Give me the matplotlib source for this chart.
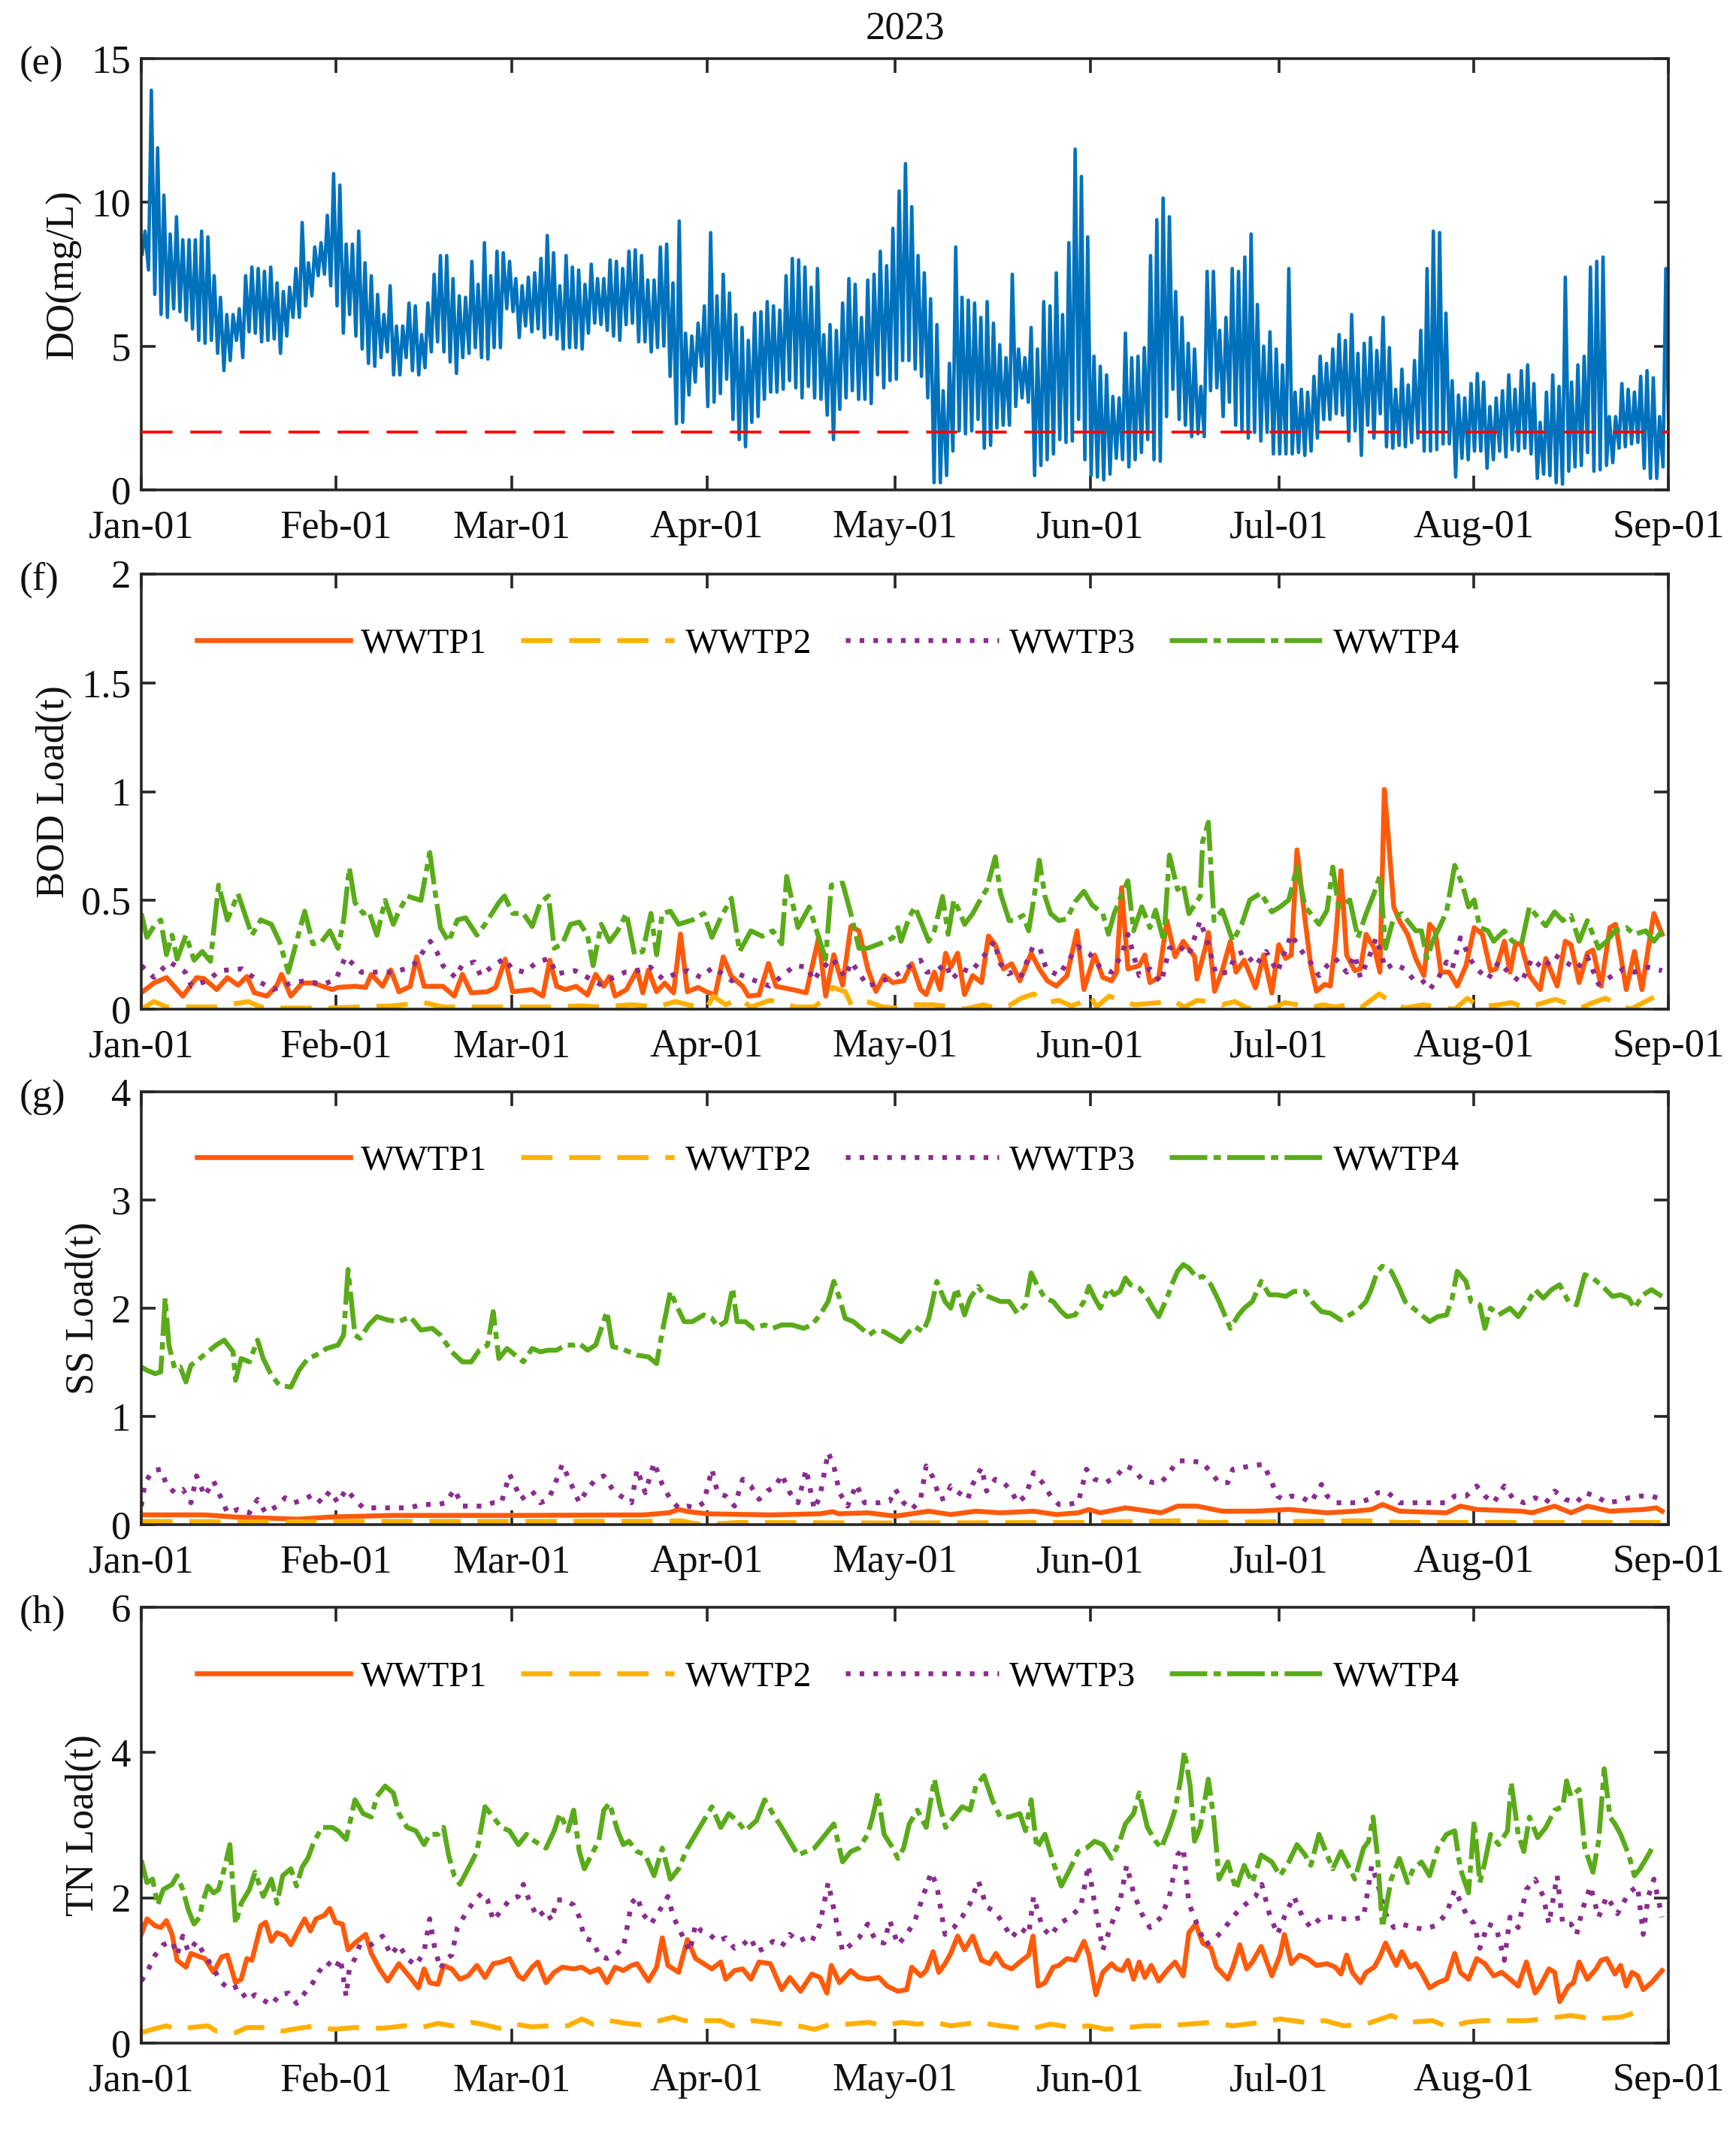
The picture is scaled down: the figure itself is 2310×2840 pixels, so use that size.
import datetime
import numpy as np
import matplotlib
matplotlib.use("Agg")
import matplotlib.pyplot as plt
import matplotlib.dates as mdates

plt.rcParams['font.family'] = ['Liberation Serif', 'DejaVu Serif']
plt.rcParams['lines.scale_dashes'] = False

# ---------------- DATA ----------------
# DO (mg/L): daily high and low of the sub-daily record, day 0 = Jan-01
do_hi = [9.0, 13.9, 11.9, 10.25, 8.9, 9.5, 8.7, 8.7, 8.7, 9.0, 8.8, 7.45, 6.7, 6.1, 6.1, 6.3, 7.45, 7.75, 7.7, 7.6,
         7.75, 7.2, 6.9, 7.05, 7.7, 9.3, 7.9, 8.45, 8.6, 9.55, 11.0, 10.6, 8.55, 8.55, 9.0, 7.9, 7.45, 6.8, 6.1, 7.1,
         5.7, 5.7, 6.5, 6.4, 5.4, 6.5, 7.5, 8.15, 8.15, 7.35, 6.75, 6.7, 7.95, 7.15, 8.6, 7.45, 8.3, 8.25, 7.95, 7.35,
         7.1, 7.4, 7.55, 8.05, 8.85, 8.25, 7.1, 8.15, 7.75, 7.65, 7.15, 7.85, 7.35, 7.35, 8.0, 7.95, 7.7, 8.3, 8.35, 8.15,
         7.3, 7.3, 8.45, 8.55, 7.2, 9.35, 5.45, 5.35, 5.8, 6.4, 8.95, 6.75, 7.5, 6.85, 6.1, 5.65, 5.2, 6.15, 6.2, 6.55,
         6.4, 6.25, 7.45, 8.05, 8.0, 7.75, 7.05, 7.7, 5.4, 5.75, 5.55, 6.5, 7.35, 7.15, 6.0, 7.3, 7.5, 8.3, 7.8, 9.1,
         10.4, 11.35, 9.85, 8.15, 7.55, 6.65, 5.75, 3.45, 4.4, 8.45, 6.7, 6.6, 6.5, 6.0, 6.55, 5.8, 5.05, 4.6, 7.5, 4.9,
         4.6, 5.65, 4.9, 6.55, 6.4, 7.55, 6.1, 8.6, 11.85, 10.9, 8.8, 4.65, 4.3, 4.0, 3.25, 3.2, 5.45, 4.6, 4.65, 4.95,
         8.15, 9.4, 10.15, 9.5, 6.9, 6.0, 5.1, 4.9, 3.6, 7.6, 7.6, 5.55, 6.0, 7.7, 7.6, 8.1, 8.9, 6.45, 5.0, 5.5,
         4.9, 4.35, 7.7, 3.4, 3.5, 3.4, 3.95, 4.65, 4.4, 4.9, 5.4, 5.2, 6.1, 4.75, 5.1, 5.3, 4.85, 6.0, 4.95, 3.5,
         4.2, 3.65, 4.5, 5.55, 7.7, 9.0, 8.95, 6.15, 3.8, 3.3, 3.2, 3.7, 4.05, 3.75, 2.9, 3.2, 3.45, 4.0, 3.5, 4.15,
         4.35, 3.7, 2.35, 3.4, 4.0, 3.6, 7.4, 3.75, 4.35, 4.65, 7.75, 7.95, 8.1, 2.55, 2.55, 3.7, 3.5, 3.4, 3.95, 4.15,
         3.9, 2.55, 7.7, 2.5]
do_lo = [8.2, 7.65, 6.8, 6.1, 6.0, 6.3, 6.2, 5.9, 5.6, 5.2, 5.1, 5.2, 4.75, 4.15, 4.5, 5.2, 4.6, 5.5, 5.45, 5.15,
         5.2, 5.25, 4.75, 5.35, 6.0, 6.0, 6.4, 6.75, 7.45, 7.5, 7.1, 6.4, 5.45, 6.1, 5.35, 4.9, 4.4, 4.3, 4.6, 4.8,
         4.0, 4.0, 4.6, 4.15, 4.0, 4.25, 4.8, 5.15, 4.8, 4.45, 4.05, 4.6, 4.75, 4.95, 4.6, 4.55, 4.95, 4.95, 6.3, 6.2,
         5.3, 5.7, 5.5, 5.6, 5.3, 5.4, 5.25, 4.9, 4.95, 4.95, 4.9, 5.45, 5.8, 5.75, 5.55, 5.35, 5.2, 5.75, 5.8, 5.15,
         5.15, 4.8, 4.95, 5.0, 3.95, 2.3, 2.35, 3.3, 3.75, 4.3, 2.9, 3.05, 3.35, 3.85, 2.45, 1.75, 1.5, 2.35, 2.55, 3.15,
         3.4, 3.4, 3.5, 3.8, 3.55, 3.2, 3.6, 3.2, 3.15, 2.6, 1.75, 2.8, 3.2, 3.45, 3.15, 3.15, 3.0, 4.0, 3.55, 3.8,
         3.85, 4.5, 4.5, 4.2, 3.95, 3.2, 0.25, 0.25, 0.5, 1.35, 2.05, 1.95, 2.05, 2.45, 1.45, 1.55, 2.15, 2.25, 2.25, 2.9,
         3.2, 3.05, 0.5, 0.85, 1.05, 1.25, 1.75, 1.65, 1.7, 2.45, 1.05, 0.5, 0.45, 0.35, 0.55, 1.1, 1.05, 0.8, 1.05, 1.3,
         1.75, 1.05, 1.0, 2.55, 3.5, 2.45, 2.25, 1.85, 1.95, 1.85, 3.45, 3.55, 2.55, 3.05, 2.25, 2.05, 1.8, 2.0, 1.7, 2.0,
         1.25, 1.25, 1.25, 1.25, 1.3, 1.2, 1.35, 1.8, 2.45, 2.45, 2.65, 2.6, 1.7, 2.05, 1.2, 2.25, 1.8, 2.65, 1.5, 1.45,
         1.55, 1.5, 1.65, 1.8, 1.35, 1.35, 1.4, 1.6, 1.6, 0.45, 1.1, 1.05, 1.35, 1.35, 0.75, 1.05, 1.35, 1.15, 1.4, 1.35,
         1.45, 1.25, 0.4, 0.55, 0.5, 0.25, 0.2, 0.65, 0.8, 0.85, 1.3, 0.65, 0.7, 0.85, 0.95, 1.45, 1.5, 1.6, 1.65, 0.75,
         0.4, 0.4, 0.8, 0.85]
do_standard = 2.0

# BOD load (t): (day since Jan-01, value)
bod1_day = [0, 2, 4, 6.6, 8.8, 10, 12, 13.7, 15.4, 16.8, 18, 20, 21.6, 22.3, 23.8, 25.6, 27.3, 30.4, 31.3, 34, 35.7,
            36.6, 38.4, 39.7, 41, 42.8, 43.8, 45, 48, 49.8, 51.1, 52.5, 55.1, 56.4, 57.9, 59.1, 62.2, 63.9, 65, 66.1,
            67.5, 69.2, 71, 72.3, 73.6, 74.5, 75.4, 77.2, 78.9, 79.8, 80.7, 82, 83.3, 84.7, 85.8, 86.9, 88.6, 89.9,
            91.3, 92.6, 93.9, 95.7, 96.6, 98.3, 99.8, 101, 103.6, 105.8, 107.8, 108.9, 110.2, 111.6, 112.9, 114.2,
            115.6, 116.9, 118.2, 119.6, 121.3, 122.6, 124, 124.9, 126.2, 127.1, 128, 128.8, 129.9, 131, 132.3, 133.7,
            134.8, 135.9, 137.2, 138.5, 139.8, 141.6, 142.9, 144.2, 145.6, 147.3, 148.9, 150, 151.7, 153, 154.4, 155.2,
            156, 157, 158.8, 159.7, 160.5, 161.9, 163.2, 164.5, 165.8, 167.6, 168, 169.3, 169.8, 170.8, 172, 173.3,
            174.2, 175.5, 177.3, 178.6, 179.9, 181, 182.1, 183, 183.9, 185.2, 186.1, 187, 188.3, 189.2, 190, 190.9,
            191.8, 193.1, 194, 194.9, 196.2, 197.1, 197.8, 198.4, 199.3, 200.2, 201.5, 202.8, 204.1, 205, 205.9,
            206.8, 208.1, 209.4, 210.8, 212.1, 213.4, 214.7, 215.6, 216.9, 217.8, 218.7, 219.6, 220.9, 222.6, 223.5,
            225.3, 226.6, 227.5, 228.8, 230.1, 231, 232.3, 233.7, 234.6, 236.3, 237.6, 238.8, 239.8, 240.7, 242]
bod1_val = [0.075, 0.12, 0.145, 0.06, 0.145, 0.14, 0.09, 0.145, 0.11, 0.15, 0.075, 0.06, 0.11, 0.16, 0.06, 0.12, 0.12,
            0.09, 0.1, 0.105, 0.1, 0.16, 0.105, 0.18, 0.08, 0.105, 0.24, 0.105, 0.105, 0.06, 0.16, 0.075, 0.08, 0.1,
            0.23, 0.08, 0.09, 0.06, 0.225, 0.105, 0.09, 0.105, 0.065, 0.16, 0.105, 0.15, 0.06, 0.09, 0.18, 0.075, 0.18,
            0.08, 0.12, 0.075, 0.345, 0.08, 0.1, 0.08, 0.065, 0.24, 0.15, 0.105, 0.06, 0.065, 0.21, 0.105, 0.09, 0.075,
            0.33, 0.06, 0.25, 0.11, 0.38, 0.36,
            0.185, 0.082, 0.154, 0.122, 0.13, 0.209, 0.09, 0.067, 0.17, 0.09, 0.257, 0.193, 0.257, 0.067, 0.154, 0.122,
            0.336, 0.296, 0.185, 0.209, 0.13, 0.257, 0.185, 0.13, 0.106, 0.154, 0.36, 0.09, 0.249, 0.146, 0.13, 0.17,
            0.558, 0.185, 0.2, 0.249, 0.122, 0.146, 0.407, 0.241, 0.312, 0.241, 0.138, 0.28, 0.352, 0.082, 0.177, 0.312,
            0.17, 0.225, 0.098, 0.249, 0.074, 0.296, 0.233, 0.249, 0.732, 0.407, 0.2, 0.082, 0.114, 0.106, 0.304, 0.637,
            0.249, 0.177, 0.185, 0.344, 0.28, 0.17, 1.01, 0.803, 0.47, 0.407, 0.344, 0.233, 0.154, 0.39, 0.36, 0.17,
            0.17, 0.106, 0.2, 0.375, 0.344, 0.177, 0.185, 0.312, 0.17, 0.304, 0.296, 0.154, 0.09, 0.233, 0.106, 0.312,
            0.296, 0.122, 0.257, 0.272, 0.106, 0.375, 0.39, 0.09, 0.265, 0.09, 0.28, 0.44, 0.344]

bod2_day = [0, 2, 4, 8, 12, 17, 19, 22, 30, 35, 40, 45, 48, 52, 60, 65, 70, 73, 78, 82, 85, 87, 90, 91, 93, 95, 97,
            100, 102, 104, 107, 109, 110, 112, 113, 115, 118, 120, 123, 126, 129, 131, 134, 136, 138, 140, 142, 144,
            146, 148, 149.5, 151, 152, 154, 156, 158, 160, 162, 164, 166, 168, 170, 172, 174, 176, 178, 180, 182, 184,
            186, 188, 190, 192, 194, 197, 199, 201, 204, 206, 209, 211, 213, 216, 218, 220, 222, 225, 227, 229, 231,
            233, 235, 237, 239, 241, 242]
bod2_val = [0.0, 0.035, 0.01, 0.01, 0.01, 0.035, 0.01, 0.005, 0.005, 0.01, 0.015, 0.03, 0.01, 0.01, 0.01, 0.01, 0.015,
            0.01, 0.02, 0.01, 0.035, 0.02, 0.005, 0.06, 0.02, 0.05, 0.01, 0.04, 0.03, 0.01, 0.01, 0.05, 0.1, 0.08,
            0.02, 0.04, 0.01, 0.005, 0.02, 0.02, 0.01, 0.0, 0.02, 0.005, 0.015, 0.05, 0.07, 0.03, 0.04, 0.015, 0.03,
            0.065, 0.01, 0.06, 0.04, 0.02, 0.025, 0.03, 0.04, 0.01, 0.04, 0.035, 0.02, 0.035, 0.005, 0.005, 0.005,
            0.03, 0.02, 0.005, 0.02, 0.01, 0.02, 0.005, 0.07, 0.03, 0.005, 0.02, 0.01, 0.0, 0.05, 0.01, 0.02, 0.03,
            0.01, 0.02, 0.045, 0.025, 0.005, 0.03, 0.05, 0.02, 0.0, 0.03, 0.06, 0.065]

bod3_day = [0, 2, 4.5, 7, 8, 10.5, 12.5, 16, 19, 21, 24, 26, 29, 31, 32.5, 35, 37, 40, 42, 43.5, 46, 47, 48, 50, 51,
            53, 54, 56, 57.8, 59, 61, 63, 65, 66, 69, 71, 73, 74, 77, 78, 81, 83, 85, 87, 89, 91, 94, 95, 97, 100,
            102, 104, 106, 107, 108, 110, 112, 113, 115.6, 118, 120, 122, 124, 125, 126.6, 128, 129, 130.6, 132, 134,
            135.7, 136.7, 138, 139, 140, 141.9, 143, 144, 146, 147, 149, 150.8, 152.6, 154.4, 156, 157, 158.8, 160.5,
            162.3, 163.6, 165, 166.7, 168.5, 169.8, 171, 172.9, 174.2, 175.5, 177.3, 179, 180.8, 183, 184.3, 186,
            187.4, 188.7, 190, 191.8, 193.1, 194, 195.3, 196.5, 198, 199.3, 201, 202.4, 203.7, 205, 206.3, 207.7,
            208.6, 209.9, 211.6, 212.5, 214.3, 216, 217.8, 219.6, 221.3, 223.1, 224.9, 226.6, 228.4, 230.1, 231.9,
            234.1, 235.9, 237.6, 239.8, 242]
bod3_val = [0.2, 0.146, 0.217, 0.17, 0.106, 0.13, 0.177, 0.185, 0.122, 0.09, 0.122, 0.13, 0.114, 0.138, 0.241, 0.17,
            0.17, 0.17, 0.185, 0.209, 0.312, 0.265, 0.2, 0.146, 0.2, 0.217, 0.154, 0.2, 0.233, 0.185, 0.17, 0.217,
            0.233, 0.162, 0.177, 0.146, 0.114, 0.13, 0.17, 0.17, 0.193, 0.138, 0.162, 0.177, 0.146, 0.193, 0.13, 0.162,
            0.138, 0.106, 0.154, 0.2, 0.193, 0.13, 0.177, 0.233, 0.146, 0.217, 0.106, 0.13, 0.154, 0.193, 0.225, 0.17,
            0.177, 0.209, 0.138, 0.185, 0.17, 0.241, 0.312, 0.209, 0.162, 0.177, 0.154, 0.288, 0.28, 0.185, 0.154, 0.2,
            0.288, 0.257, 0.193, 0.17, 0.249, 0.344, 0.154, 0.185, 0.122, 0.28, 0.296, 0.249, 0.407, 0.296, 0.162,
            0.17, 0.249, 0.265, 0.2, 0.265, 0.17, 0.344, 0.28, 0.217, 0.154, 0.2, 0.233, 0.17, 0.249, 0.146, 0.233,
            0.328, 0.185, 0.209, 0.185, 0.138, 0.138, 0.09, 0.138, 0.217, 0.185, 0.328, 0.225, 0.185, 0.138, 0.217,
            0.162, 0.122, 0.233, 0.185, 0.249, 0.217, 0.185, 0.241, 0.114, 0.154, 0.185, 0.17, 0.193, 0.177]

bod4_day = [0, 0.9, 2.2, 3.1, 4, 4.9, 5.7, 7.1, 8.4, 9.7, 11, 12.3, 13.7, 15.4, 17.6, 19, 20.7, 22, 23.4, 24.7, 26,
            27.3, 28.7, 30, 31.3, 32.2, 33.1, 34, 35.3, 36.2, 37.5, 38.8, 40.1, 41, 42.3, 44.5, 45.9, 46.7, 47.6,
            48.9, 50.3, 51.6, 53.4, 54.7, 56.9, 57.8, 59.1, 60.8, 62.2, 63.5, 64.8, 65.7, 67, 68.3, 69.7, 71, 71.9,
            73.2, 74.5, 75.8, 77.2, 78.5, 79.8, 81.1, 82, 82.9, 84.2, 85.5, 87.7, 89.5, 90.8, 92.2, 93.9, 95.2, 97,
            98.8, 100.5, 101.9, 102.7, 104.5, 106.3, 108, 108.9, 109.8, 111.6, 112.9, 114.2,
            115.6, 117.8, 119.6, 120.4, 120.9, 122.2, 123.1, 124, 125.3, 126.2, 127.5, 128.4, 129.3, 130.1, 131,
            132.3, 133.2, 134.5, 135.9, 136.7, 138.1, 138.9, 140.3, 141.2, 142, 142.9, 143.8, 144.7, 146, 147.3,
            148.6, 150, 151.3, 153, 153.9, 154.8, 156.1, 157, 157.9, 159.2, 160.5, 161.4, 162.7, 163.6, 164.9, 165.8,
            166.7, 168.5, 168.9, 169.8, 170.7, 172, 173.7, 175.1, 176.4, 178.2, 179.9, 181.2, 182.6, 183.9, 185.2,
            186.1, 187.4, 188.7, 189.6, 190.5, 192.3, 193.6, 194.9, 196.2, 197.1, 198, 199.3, 200.6, 202.8, 203.7,
            204.6, 205.5, 206.3, 207.7, 209, 210.3, 211.2, 212.1, 213, 214.3, 215.2, 216.9, 218.2, 219.6, 220.9,
            222.2, 223.5, 224.9, 226.2, 227.5, 228.8, 230.1, 231.9, 233.2, 234.5, 236.3, 237.6, 239.4, 240.7, 242]
bod4_val = [0.44, 0.33, 0.39, 0.41, 0.25, 0.34, 0.23, 0.34, 0.225, 0.265, 0.22, 0.57, 0.41, 0.53, 0.34, 0.41, 0.39,
            0.31, 0.17, 0.31, 0.45, 0.3, 0.31, 0.36, 0.28, 0.41, 0.65, 0.49, 0.44, 0.45, 0.34, 0.5, 0.39, 0.45, 0.52,
            0.5, 0.72, 0.55, 0.375, 0.31, 0.41, 0.42, 0.34, 0.39, 0.49, 0.52, 0.44, 0.44, 0.38, 0.49, 0.52, 0.28, 0.3,
            0.39, 0.4, 0.34, 0.2, 0.39, 0.31, 0.36, 0.44, 0.25, 0.265, 0.44, 0.25, 0.44, 0.45, 0.39, 0.41, 0.44, 0.33,
            0.42, 0.51, 0.265, 0.36, 0.335, 0.36, 0.3, 0.61, 0.375, 0.47, 0.31, 0.23, 0.57, 0.58, 0.44, 0.28,
            0.28, 0.304, 0.328, 0.375, 0.312, 0.423, 0.47, 0.407, 0.312, 0.36, 0.518, 0.344, 0.502, 0.455, 0.39,
            0.439, 0.487, 0.55, 0.7, 0.534, 0.407, 0.407, 0.431, 0.36, 0.502, 0.685, 0.518, 0.439, 0.407, 0.415,
            0.494, 0.542, 0.479, 0.439, 0.344, 0.439, 0.534, 0.59, 0.36, 0.47, 0.375, 0.455, 0.312, 0.708, 0.55,
            0.574, 0.439, 0.518, 0.772, 0.859, 0.407, 0.455, 0.312, 0.39, 0.502, 0.534, 0.447, 0.47, 0.502, 0.653,
            0.47, 0.439, 0.39, 0.455, 0.653, 0.47, 0.502, 0.328, 0.439, 0.534, 0.613, 0.28, 0.423, 0.439, 0.36, 0.36,
            0.233, 0.312, 0.36, 0.447, 0.661, 0.566, 0.47, 0.502, 0.375, 0.36, 0.312, 0.36, 0.312, 0.296, 0.47, 0.423,
            0.383, 0.447, 0.407, 0.431, 0.312, 0.407, 0.28, 0.312, 0.36, 0.375, 0.344, 0.36, 0.312, 0.36]

# SS load (t)
ss1_day = [0, 10, 15, 25, 30, 40, 60, 80, 84, 85.5, 87, 90, 100, 108, 110, 111, 115.6, 120, 125.3, 128.8, 132.8,
           136.7, 142, 145.6, 149.1, 150.8, 152.6, 156.6, 162.3, 164.9, 168, 172, 177.3, 182.6, 188.7, 193.1, 195.8,
           197.5, 200.2, 207.7, 209.9, 212.5, 219.6, 221.3, 224.9, 227.5, 230.1, 233.7, 239, 241.1, 242]
ss1_val = [0.09, 0.09, 0.07, 0.05, 0.07, 0.085, 0.085, 0.09, 0.11, 0.14, 0.12, 0.1, 0.09, 0.1, 0.12, 0.1, 0.109, 0.078,
           0.124, 0.093, 0.124, 0.109, 0.124, 0.093, 0.109, 0.14, 0.109, 0.155, 0.109, 0.171, 0.171, 0.124, 0.124,
           0.14, 0.109, 0.124, 0.14, 0.186, 0.124, 0.109, 0.171, 0.14, 0.124, 0.109, 0.171, 0.109, 0.171, 0.124, 0.14,
           0.155, 0.124]

ss2_day = [0, 20, 40, 60, 80, 86, 88, 90, 95, 120, 150, 165, 170, 195, 200, 230, 242]
ss2_val = [0.03, 0.025, 0.03, 0.03, 0.03, 0.035, 0.01, 0.0, 0.02, 0.015, 0.02, 0.035, 0.02, 0.035, 0.02, 0.02, 0.02]

ss3_day = [0, 0.6, 1.8, 3.1, 4, 5.3, 6.6, 7.9, 8.8, 10.1, 11.5, 12.8, 13.7, 15.4, 17.2, 18.5, 19.8, 21.6, 22.9, 24.3,
           26, 27.3, 28.7, 30, 31.3, 32.6, 34, 35.3, 37.5, 39.2, 41, 42.8, 44.5, 45.9, 47.2, 48.5, 49.8, 51.1, 52.5,
           54.2, 56, 57.3, 58.6, 59.5, 60.4, 62.2, 63.5, 64.8, 65.7, 67, 68.3, 69.7, 71, 72.3, 73.6, 75, 76.3, 78,
           78.9, 80.2, 81.6, 82.9, 84.2, 85.5, 86.9, 88.2, 89.5, 90.8, 91.7, 93, 94.4, 95.7, 97, 98.3, 99.6, 101,
           101.9, 103.2, 104.5, 105.8, 107.1, 108, 109.3, 110.2, 111.1, 112.4, 113.8, 115.1,
           117.4, 119.1, 120, 121.3, 122.6, 124, 124.9, 126, 127.1, 128, 128.8, 130.1, 131.5, 132.3, 133.7, 134.5,
           135.9, 137.2, 138.5, 139.4, 140.7, 142, 143.4, 144.7, 146, 147.3, 149.1, 150.4, 151.7, 153.5, 155.2,
           156.6, 157.9, 159.2, 161, 162.3, 163.6, 164.9, 166.7, 168.9, 170.2, 171.5, 172.9, 173.7, 175.1, 176.8,
           178.6, 179.9, 180.8, 181.7, 183, 184.8, 186.1, 187.8, 188.7, 190, 191.8, 193.6, 195.3, 196.7, 198.4,
           200.2, 201.9, 203.7, 205.5, 207.7, 209, 210.8, 212.5, 213.8, 215.2, 216.9, 218.2, 220, 221.8, 223.5,
           224.9, 226.6, 228.4, 229.7, 231.5, 233.2, 235, 236.7, 238.5, 240.3, 242]
ss3_val = [0.171, 0.388, 0.496, 0.512, 0.372, 0.295, 0.326, 0.202, 0.45, 0.264, 0.403, 0.233, 0.109, 0.14, 0.109,
           0.233, 0.109, 0.171, 0.248, 0.202, 0.233, 0.279, 0.202, 0.31, 0.202, 0.326, 0.233, 0.155, 0.155, 0.155,
           0.155, 0.155, 0.186, 0.186, 0.186, 0.202, 0.326, 0.171, 0.171, 0.171, 0.202, 0.202, 0.465, 0.357, 0.233,
           0.31, 0.202, 0.233, 0.357, 0.558, 0.388, 0.202, 0.326, 0.419, 0.45, 0.326, 0.264, 0.202, 0.512, 0.295,
           0.574, 0.372, 0.233, 0.155, 0.171, 0.155, 0.202, 0.512, 0.295, 0.264, 0.171, 0.419, 0.357, 0.233, 0.31,
           0.357, 0.465, 0.295, 0.202, 0.512, 0.14, 0.264, 0.667, 0.543, 0.295, 0.171, 0.372, 0.202,
           0.202, 0.217, 0.326, 0.202, 0.14, 0.233, 0.543, 0.434, 0.233, 0.248, 0.357, 0.295, 0.233, 0.372, 0.527,
           0.31, 0.419, 0.388, 0.31, 0.202, 0.264, 0.481, 0.388, 0.264, 0.186, 0.186, 0.202, 0.512, 0.419, 0.388,
           0.45, 0.543, 0.512, 0.419, 0.388, 0.388, 0.481, 0.589, 0.589, 0.574, 0.481, 0.388, 0.388, 0.512, 0.527,
           0.543, 0.558, 0.388, 0.264, 0.233, 0.264, 0.248, 0.202, 0.372, 0.264, 0.202, 0.202, 0.202, 0.233, 0.295,
           0.295, 0.202, 0.202, 0.202, 0.202, 0.202, 0.264, 0.264, 0.357, 0.264, 0.202, 0.357, 0.248, 0.202, 0.248,
           0.202, 0.31, 0.233, 0.202, 0.295, 0.264, 0.202, 0.217, 0.248, 0.264, 0.264, 0.233]

ss4_day = [0, 0.9, 2.2, 3.1, 3.8, 4.4, 5.3, 6.2, 7.1, 7.9, 9.3, 10.6, 11.9, 13.2, 14.6, 15, 15.9, 17.2, 18.5, 19.4,
           20.7, 22, 23.8, 25.1, 26.5, 27.8, 29.5, 31.3, 32.2, 32.9, 34, 34.8, 36.2, 37.5, 39.2, 41, 42.8, 44.5,
           46.3, 47.6, 49.4, 51.1, 52.5, 53.8, 55.1, 56, 56.9, 58.2, 59.5, 60.8, 62.2, 63.5, 64.8, 66.1, 67.5, 68.8,
           69.7, 71, 72.3, 74.1, 75, 76.3, 77.6, 78.9, 80.7, 82, 82.9, 84.2, 85.1, 86.4, 87.7, 89.5, 90.8, 91.7, 93,
           94.1, 94.8, 96.1, 97.4, 99.2, 100.5, 101.9, 103.6, 105.4, 106.7, 108, 109.3, 110.2, 111.1, 112, 113.3,
           114.6, 115.8, 116.9, 118.2, 119.6, 120.9, 122.2, 123.1, 124.4, 125.3, 126.6, 127.9, 128.8, 129.7, 131,
           131.9, 133.2, 134.1, 135.4, 136.7, 138.1, 139.4, 140.7, 141.6, 142.5, 143.8, 145.1, 146.4, 147.3, 148.6,
           150, 150.8, 151.7, 152.6, 153.9, 154.8, 155.7, 156.6, 157.4, 158.8, 160.1, 161, 161.9, 163.2, 164.1,
           164.9, 165.8, 166.7, 168, 168.9, 170.2, 171.5, 172.4, 173.3, 174.6, 175.5, 176.8, 178.2, 179.5, 180.8,
           182.1, 183.4, 185.2, 186.5, 187.8, 189.2, 190.9, 192.3, 193.6, 194.9, 195.8, 196.7, 197.5, 198.9, 200.2,
           201.1, 202.4, 203.7, 205, 206.3, 207.7, 208.6, 209.4, 210.8, 211.6, 213, 213.8, 214.7, 216, 217.8, 219.1,
           220.4, 221.8, 223.1, 224.4, 225.7, 227.1, 228.4, 229.7, 231, 232.8, 234.1, 235.4, 236.7, 237.6, 239,
           240.3, 242]
ss4_val = [1.457, 1.426, 1.395, 1.411, 2.093, 1.659, 1.442, 1.457, 1.318, 1.473, 1.535, 1.597, 1.659, 1.705, 1.597,
           1.333, 1.535, 1.504, 1.705, 1.535, 1.38, 1.287, 1.271, 1.426, 1.535, 1.566, 1.628, 1.659, 1.752, 2.357,
           1.752, 1.721, 1.845, 1.922, 1.891, 1.876, 1.922, 1.798, 1.814, 1.752, 1.597, 1.504, 1.504, 1.612, 1.659,
           1.969, 1.535, 1.628, 1.566, 1.504, 1.628, 1.597, 1.612, 1.612, 1.659, 1.659, 1.674, 1.612, 1.659, 1.969,
           1.644, 1.628, 1.597, 1.566, 1.55, 1.488, 1.783, 2.155, 2.031, 1.876, 1.876, 1.938, 1.907, 1.829, 1.876,
           2.186, 1.876, 1.876, 1.814, 1.845, 1.814, 1.845, 1.845, 1.814, 1.845, 1.938, 2.062, 2.248, 2.093, 1.907,
           1.876, 1.814, 1.752, 1.798, 1.783, 1.736, 1.69, 1.783, 1.829, 1.783, 1.907, 2.248, 2.062, 2.0, 2.186,
           1.938, 2.093, 2.202, 2.124, 2.093, 2.062, 2.062, 1.953, 2.031, 2.326, 2.217, 2.093, 2.062, 1.969, 1.922,
           1.938, 2.062, 2.202, 2.093, 2.0, 2.186, 2.124, 2.155, 2.279, 2.217, 2.186, 2.093, 2.0, 1.922, 2.093,
           2.233, 2.341, 2.403, 2.372, 2.279, 2.295, 2.217, 2.062, 1.938, 1.814, 1.938, 2.0, 2.062, 2.248, 2.124,
           2.124, 2.109, 2.155, 2.155, 2.047, 1.969, 1.953, 1.891, 1.938, 1.984, 2.062, 2.186, 2.341, 2.388, 2.341,
           2.186, 2.062, 2.0, 1.938, 1.876, 1.922, 1.938, 2.093, 2.341, 2.248, 2.062, 2.031, 1.814, 2.0, 1.938, 2.0,
           1.922, 2.031, 2.171, 2.093, 2.171, 2.217, 2.062, 2.031, 2.31, 2.279, 2.186, 2.109, 2.124, 2.093, 2.0,
           2.124, 2.171, 2.109]

# TN load (t)
tn1_day = [0, 0.9, 2.2, 3.1, 4, 4.9, 5.7, 7.1, 7.9, 9.3, 10.1, 11.5, 12.8, 13.7, 15, 15.9, 16.8, 17.6, 19, 19.8,
           20.7, 21.6, 22.9, 23.8, 25.1, 26, 26.9, 27.8, 29.1, 30, 30.9, 32, 32.9, 34, 35.7, 36.6, 37.9, 39.2, 41,
           42.8, 44.1, 45, 45.9, 47.2, 48.1, 49.4, 50.7, 52, 53.4, 54.7, 56, 57.3, 58.6, 60, 60.8, 62.2, 63.1, 64.4,
           65.7, 67, 68.8, 70.1, 71.4, 72.8, 74.1, 75.4, 76.7, 78, 78.9, 80.7, 82, 82.9, 83.8, 85.5, 86.9, 88.2, 89.5,
           90.8, 92.2, 93, 94.4, 95.7, 97, 98.3, 100.1, 101.9, 103.2, 104.9, 106.7, 108, 109.1, 109.8, 111.1, 112.9,
           114.2, 115.6, 117.4, 118.7, 120.4, 121.8, 122.6, 124, 124.9, 126, 126.9, 127.9, 128.8, 129.9, 131, 132.3,
           133.7, 135, 136, 137.2, 138.5, 139.8, 141.2, 141.9, 142.7, 143.8, 145.1, 146, 147.3, 148.6, 150, 150.8,
           151.9, 153, 154.4, 155.2, 156.1, 157, 157.9, 158.8, 159.7, 160.7, 161.9, 163.2, 164.5, 165.8, 166.7,
           167.8, 168.9, 170.2, 171.1, 172.9, 173.7, 174.8, 175.9, 176.8, 178.2, 179.9, 181.2, 181.9, 183, 184.3,
           185.6, 187, 188.7, 190, 190.9, 191.8, 192.7, 194, 194.9, 196.2, 197.1, 198, 198.9, 199.7, 200.6, 201.9,
           202.8, 203.7, 205, 206.3, 207.7, 209, 209.9, 211.2, 212.5, 213.8, 215.2, 216.5, 217.8, 219.1, 220.4,
           221.8, 222.6, 224, 224.9, 225.7, 227.1, 227.9, 228.8, 230.1, 231.5, 232.3, 233.2, 234.5, 235.4, 236.3,
           237.2, 238.1, 239, 240.3, 242]
tn1_val = [1.496, 1.71, 1.615, 1.591, 1.686, 1.496, 1.14, 1.045, 1.235, 1.188, 1.164, 0.974, 1.188, 1.211, 0.831,
           0.879, 1.164, 1.14, 1.615, 1.663, 1.401, 1.52, 1.473, 1.354, 1.568, 1.71, 1.544, 1.71, 1.758, 1.853, 1.663,
           1.639, 1.283, 1.378, 1.496, 1.235, 1.021, 0.855, 1.093, 0.903, 0.76, 1.021, 0.831, 0.808, 1.069, 1.021,
           0.879, 0.926, 1.069, 0.903, 1.093, 1.116, 1.164, 0.926, 0.879, 1.045, 1.116, 0.831, 0.974, 1.045, 1.021,
           1.045, 0.974, 1.021, 0.831, 1.045, 0.998, 1.069, 1.093, 0.855, 1.045, 1.449, 1.069, 0.974, 1.425, 1.164,
           1.093, 1.021, 1.116, 0.879, 0.998, 1.021, 0.879, 1.116, 1.093, 0.736, 0.903, 0.713, 0.95, 0.903, 0.689,
           1.069, 0.831, 0.998, 0.903, 0.879, 0.903, 0.784, 0.713, 0.736, 1.045, 0.926, 0.998, 1.259, 0.974, 1.093,
           1.235, 1.473, 1.283, 1.473, 1.14, 1.093, 1.235, 1.069, 1.021, 1.116, 1.211, 1.473, 0.784, 0.831, 1.045,
           1.069, 1.164, 1.14, 1.401, 1.211, 0.665, 0.974, 1.093, 1.021, 0.998, 1.14, 0.879, 1.116, 0.903, 1.069,
           0.855, 0.998, 1.116, 0.926, 1.52, 1.639, 1.378, 1.306, 1.045, 0.879, 1.045, 1.354, 1.021, 1.116, 1.33,
           0.926, 1.211, 1.496, 1.093, 1.211, 1.164, 1.069, 1.093, 1.045, 0.95, 1.211, 0.974, 0.831, 0.974, 1.045,
           1.188, 1.378, 1.211, 1.069, 1.259, 1.045, 1.093, 0.974, 0.76, 0.831, 0.879, 1.235, 0.974, 0.879, 1.164,
           1.093, 0.926, 0.974, 0.879, 0.784, 1.116, 0.689, 0.784, 1.021, 0.974, 0.57, 0.784, 0.831, 1.116, 0.879,
           1.021, 1.14, 1.164, 0.95, 1.069, 0.784, 0.974, 0.926, 0.736, 0.831, 0.998]

tn2_day = [0, 1.8, 4, 5.7, 7.9, 10.6, 11.9, 15, 16.8, 19.4, 22.5, 25.1, 27.8, 30.4, 34, 38.4, 41.9, 44.5, 47.2, 49.4,
           52.5, 54.2, 56.9, 59.5, 62.2, 64.8, 67.9, 70.1, 71.9, 74.5, 77.2, 79.4, 82.5, 84.7, 86.4, 89.9, 92.2,
           93.9, 97.4, 101, 104.5, 107.1, 109.8, 112.4, 115.8, 118.2, 120.9, 123.5, 126.2, 128.8, 133.2, 136.7,
           141.2, 144.7, 148.2, 150.8, 153.5, 157, 159.7, 163.2, 166.7, 170.2, 173.7, 178.2, 181.2, 185.2, 188.3,
           191.4, 194.9, 198.9, 201.5, 205.5, 208.1, 210.8, 213.4, 216.9, 220.4, 223.1, 227.5, 231, 235.4, 238.1,
           239]
tn2_val = [0.143, 0.19, 0.238, 0.19, 0.214, 0.238, 0.166, 0.143, 0.214, 0.214, 0.166, 0.204, 0.238, 0.19, 0.214,
           0.204, 0.238, 0.214, 0.271, 0.238, 0.285, 0.261, 0.204, 0.261, 0.223, 0.238, 0.238, 0.333, 0.261, 0.309,
           0.271, 0.252, 0.309, 0.356, 0.309, 0.309, 0.309, 0.238, 0.309, 0.271, 0.238, 0.19, 0.261, 0.261, 0.285,
           0.238, 0.285, 0.261, 0.285, 0.238, 0.285, 0.238, 0.19, 0.261, 0.214, 0.238, 0.19, 0.214, 0.238, 0.238,
           0.261, 0.285, 0.238, 0.285, 0.333, 0.285, 0.309, 0.238, 0.261, 0.38, 0.285, 0.309, 0.214, 0.285, 0.309,
           0.309, 0.309, 0.333, 0.38, 0.333, 0.356, 0.428, 0.38]

tn3_day = [0, 0.9, 2.2, 3.5, 4.9, 5.7, 6.6, 7.5, 8.8, 10.1, 11.5, 12.8, 14.1, 15.4, 16.8, 18.1, 19.4, 20.7, 22, 23.4,
           24.7, 26, 27.3, 28.2, 29.5, 30.9, 31.7, 32.6, 33.1, 34, 34.8, 36.6, 38.4, 39.7, 41, 42.3, 43.7, 45, 45.9,
           46.7, 47.6, 48.5, 49.4, 50.3, 51.6, 52.9, 54.2, 55.1, 56, 57.3, 58.6, 60, 60.8, 61.7, 63, 64.4, 65.3,
           66.1, 67.5, 68.8, 69.7, 70.5, 71.9, 72.8, 74.1, 75.4, 76.7, 78, 78.9, 79.8, 81.1, 82.5, 83.8, 84.7, 86,
           87.3, 88.2, 89.1, 90.4, 91.7, 93, 94.4, 95.7, 97, 97.9, 99.2, 100.5, 101.9, 103.2, 104.5, 105.8, 106.7,
           108, 109.3, 110.7, 111.6, 112.9, 114.2, 115.6, 116.9, 118.2, 119.1, 120.4, 121.8, 123.1, 124.4, 125.7,
           126.6, 127.9, 129.3, 130.6, 131.9, 133.2, 134.5, 135.9, 137.2, 138.5, 139.8, 141.2, 142, 143.4, 144.7,
           146, 147.8, 149.5, 150.7, 151.7, 153, 154.4, 155.7, 156.8, 157.9, 159.2, 160.5, 162.3, 163.6, 164.9,
           165.8, 166.7, 168, 169.3, 170.7, 172, 173.3, 174.6, 175.9, 177.3, 178.3, 179.5, 180.8, 182.1, 183.4,
           184.8, 186.1, 187.8, 189.6, 191.4, 193.1, 194.5, 195.8, 196.7, 198, 199.3, 200.6, 202.4, 204.1, 205.9,
           207.7, 209, 210.8, 212.1, 213, 214.3, 215.6, 216.9, 217.8, 219.1, 220.4, 221.8, 223.1, 224, 225.3, 226.2,
           227.5, 228.4, 229.3, 230.6, 231.9, 233.2, 234.9, 236.7, 238.1, 239, 239.8, 240.7, 242]
tn3_val = [0.855, 0.974, 1.211, 1.354, 1.401, 1.211, 1.473, 1.259, 1.401, 1.211, 1.021, 0.831, 0.736, 0.784, 0.594,
           0.665, 0.594, 0.523, 0.665, 0.689, 0.546, 0.689, 0.831, 0.974, 1.116, 1.021, 1.164, 0.641, 1.021, 1.164,
           1.354, 1.354, 1.473, 1.211, 1.354, 1.164, 1.069, 1.259, 1.71, 1.306, 1.021, 1.164, 1.211, 1.591, 1.781,
           1.948, 2.067, 1.971, 1.686, 1.829, 1.971, 2.019, 2.185, 1.971, 1.734, 1.829, 1.686, 1.971, 1.971, 1.9,
           1.734, 1.449, 1.401, 1.211, 1.164, 1.211, 1.306, 1.924, 2.019, 1.781, 1.639, 1.829, 2.019, 1.734, 1.496,
           1.259, 1.639, 1.544, 1.496, 1.401, 1.449, 1.306, 1.354, 1.449, 1.259, 1.306, 1.401, 1.33, 1.496, 1.401,
           1.449, 1.401, 1.639, 2.209, 1.639, 1.259, 1.354, 1.449, 1.639, 1.401, 1.378, 1.686, 1.354, 1.496, 1.686,
           2.019, 2.352, 2.162, 1.496, 1.591, 1.734, 1.924, 2.233, 1.876, 1.805, 1.639, 1.449, 1.591, 1.496, 2.019,
           1.591, 1.473, 1.639, 1.734, 1.876, 2.447, 1.924, 1.283, 1.639, 1.924, 2.447, 2.067, 1.781, 1.591, 1.734,
           2.019, 2.589, 2.684, 1.924, 1.639, 1.354, 1.425, 1.544, 1.686, 1.829, 1.924, 2.019, 2.185, 1.781, 1.496,
           1.781, 2.019, 1.734, 1.591, 1.734, 1.734, 1.71, 1.71, 1.734, 2.447, 2.209, 1.781, 1.591, 1.639, 1.591,
           1.568, 1.615, 1.781, 2.114, 1.781, 1.639, 1.306, 1.639, 1.591, 1.14, 1.734, 1.591, 2.114, 2.257, 2.019,
           1.639, 2.304, 1.639, 1.639, 1.496, 1.829, 2.162, 1.734, 2.019, 1.781, 2.067, 2.162, 1.496, 2.019, 2.257,
           1.734]

tn4_day = [0, 0.9, 1.8, 2.6, 3.5, 4.9, 5.7, 6.6, 7.5, 8.4, 9.3, 9.7, 10.6, 11.5, 12.3, 13.2, 14.1, 15, 15.9, 17.2,
           18.1, 19.4, 20.7, 21.6, 22.5, 23.8, 24.7, 25.6, 26.5, 27.3, 28.7, 30.4, 31.3, 32.6, 34, 35.3, 36.6, 37.5,
           38.8, 40.1, 41, 42.3, 43.7, 45, 45.9, 47.2, 48.1, 48.9, 49.8, 50.7, 52, 53.4, 54.7, 56, 57.3, 58.6, 60,
           61.3, 62.6, 64.4, 65.7, 66.6, 67.9, 68.8, 69.7, 70.5, 71.9, 72.8, 73.6, 74.5, 75.8, 76.7, 77.6, 78.9,
           80.2, 81.6, 82.9, 84.2, 85.5, 86.9, 88.2, 89.5, 90.8, 92.2, 93.5, 94.8, 96.1, 97.9, 99.2, 100.5, 101.9,
           103.2, 104.5, 105.8, 107.1, 108.9, 110.2, 111.6, 112.9, 114.2, 115.6, 116.5, 117.2, 118.2, 119.6, 120.4,
           121.3, 122.2, 123.5, 124.9, 126.2, 127.1, 128, 129.3, 130.6, 131.9, 132.8, 134.1, 135.4, 136.7, 138.1,
           139.8, 140.7, 141.6, 142.5, 143.8, 145.1, 146.4, 147.8, 149.1, 150.4, 151.7, 153, 154.4, 155.7, 156.6,
           157.9, 158.8, 160.1, 161.4, 162.3, 163.6, 164.5, 165.4, 166, 166.9, 167.6, 168.5, 169.8, 170.7, 171.5,
           172.9, 174.2, 175.5, 176.8, 178.2, 179.9, 181.2, 182.6, 183.9, 185.2, 186.1, 187.4, 188.7, 189.6, 190.9,
           192.3, 193.1, 194.5, 195.3, 196, 196.7, 197.5, 198.9, 200.2, 201.5, 202.4, 203.7, 205, 206.3, 207.7, 209,
           209.9, 211.2, 212.1, 213, 213.8, 214.7, 216, 217.4, 218, 219.1, 220, 220.9, 222.2, 223.5, 224.9, 226.2,
           226.8, 227.5, 228.8, 229.7, 231, 231.9, 232.8, 233.7, 234.5, 235.4, 236.7, 237.6, 238.5, 239.8, 240.7]
tn4_val = [2.518, 2.209, 2.257, 1.9, 2.114, 2.185, 2.304, 2.114, 1.829, 1.639, 1.734, 1.924, 2.162, 2.067, 2.114,
           2.399, 2.732, 1.639, 1.924, 2.114, 2.352, 2.019, 2.257, 1.924, 2.304, 2.399, 2.162, 2.423, 2.542, 2.732,
           2.969, 2.969, 2.922, 2.803, 3.349, 3.159, 3.112, 3.397, 3.539, 3.444, 3.159, 2.969, 2.922, 2.732, 2.874,
           2.874, 2.969, 2.589, 2.304, 2.185, 2.399, 2.637, 3.254, 3.112, 2.969, 2.922, 2.732, 2.874, 2.779, 2.684,
           2.922, 3.159, 2.922, 3.207, 2.637, 2.399, 2.637, 2.779, 3.207, 3.302, 2.922, 2.732, 2.779, 2.637, 2.589,
           2.304, 2.684, 2.257, 2.399, 2.684, 2.874, 3.064, 3.254, 2.969, 3.159, 3.064, 2.922, 3.064, 3.349, 3.159,
           2.969, 2.779, 2.589, 2.637, 2.684, 2.874, 3.017, 2.494, 2.637, 2.684, 2.874, 3.159, 3.444, 2.874, 2.684,
           2.542, 2.684, 3.017, 3.207, 2.969, 3.634, 3.254, 2.969, 3.112, 3.254, 3.207, 3.539, 3.682, 3.349, 3.112,
           3.112, 3.159, 2.922, 3.349, 2.684, 2.874, 2.494, 2.162, 2.399, 2.637, 2.684, 2.779, 2.732, 2.542, 2.779,
           3.017, 3.159, 3.444, 2.969, 2.779, 2.684, 2.969, 3.207, 3.634, 4.014, 3.539, 2.779, 2.969, 3.634, 3.064,
           2.257, 2.494, 2.114, 2.447, 2.209, 2.589, 2.494, 2.304, 2.494, 2.732, 2.589, 2.447, 2.874, 2.589, 2.399,
           2.637, 2.399, 2.257, 2.684, 2.779, 3.112, 2.589, 1.591, 2.257, 2.542, 2.209, 2.399, 2.494, 2.304, 2.684,
           2.874, 2.922, 2.399, 2.067, 3.064, 2.209, 2.494, 2.874, 2.732, 2.922, 3.587, 2.874, 2.637, 3.112, 2.827,
           2.969, 3.207, 3.254, 3.61, 3.397, 3.492, 2.684, 2.352, 2.779, 3.777, 3.112, 3.017, 2.874, 2.589, 2.304,
           2.399, 2.589, 2.732]

months = ['2023-01-01', '2023-02-01', '2023-03-01', '2023-04-01', '2023-05-01',
          '2023-06-01', '2023-07-01', '2023-08-01', '2023-09-01']
series_names = ['WWTP1', 'WWTP2', 'WWTP3', 'WWTP4']
panel_letters = ['(e)', '(f)', '(g)', '(h)']
ylabels = ['DO(mg/L)', 'BOD Load(t)', 'SS Load(t)', 'TN Load(t)']
year_title = '2023'

# ---------------- STYLE ----------------
C_DO = '#0072BD'
COLORS = ['#FF5A0A', '#FFB000', '#8B2C8F', '#5AAB19']
LW = 4.7
STYLES = [dict(linestyle='-'),
          dict(linestyle=(0, (30, 16))),
          dict(linestyle=(0, (4.5, 8.7))),
          dict(linestyle=(0, (36, 6, 7, 6)))]
FS_TICK = 38
FS_LABEL = 38
FS_LEG = 34
FRAME = '#262626'

base = mdates.date2num(datetime.datetime(2023, 1, 1))
def to_x(days):
    return base + np.asarray(days, dtype=float)

xmin = mdates.date2num(datetime.datetime(2023, 1, 1))
xmax = mdates.date2num(datetime.datetime(2023, 9, 1))
month_ticks = [mdates.date2num(datetime.datetime.strptime(m, '%Y-%m-%d')) for m in months]

fig = plt.figure(figsize=(23.1, 28.4), dpi=100)
W, H = 2310.0, 2840.0
left_px, right_px = 188, 2220
tops = [78, 764, 1453, 2139]
bottoms = [652, 1343, 2029, 2719]
axes = []
for t, b in zip(tops, bottoms):
    ax = fig.add_axes([left_px / W, 1 - b / H, (right_px - left_px) / W, (b - t) / H])
    axes.append(ax)

def style_axis(ax, ylim, yticks, yticklabels):
    ax.set_xlim(xmin, xmax)
    ax.set_ylim(*ylim)
    ax.set_xticks(month_ticks)
    ax.xaxis.set_major_formatter(mdates.DateFormatter('%b-%d'))
    ax.set_yticks(yticks)
    ax.set_yticklabels(yticklabels)
    ax.tick_params(axis='both', which='major', direction='in', length=14, width=2.6,
                   top=True, right=True, labelsize=FS_TICK, colors=FRAME, labelcolor='#111111')
    ax.tick_params(axis='x', pad=19)
    ax.tick_params(axis='y', pad=10)
    for s in ax.spines.values():
        s.set_linewidth(2.6)
        s.set_color(FRAME)
    ax.minorticks_off()

# ---- (e) DO ----
ax = axes[0]
do_t = []
do_v = []
for d in range(len(do_hi)):
    do_t += [d + 0.15, d + 0.6]
    do_v += [do_lo[d], do_hi[d]]
ax.plot(to_x(do_t), do_v, color=C_DO, lw=3.3, zorder=2)
ax.plot([xmin, xmax], [do_standard, do_standard], color='#FF0000', lw=2.7,
        linestyle=(0, (30, 17)), zorder=3)
style_axis(ax, (0, 15), [0, 5, 10, 15], ['0', '5', '10', '15'])

# ---- (f)(g)(h) loads ----
load_data = [
    [(bod1_day, bod1_val), (bod2_day, bod2_val), (bod3_day, bod3_val), (bod4_day, bod4_val)],
    [(ss1_day, ss1_val), (ss2_day, ss2_val), (ss3_day, ss3_val), (ss4_day, ss4_val)],
    [(tn1_day, tn1_val), (tn2_day, tn2_val), (tn3_day, tn3_val), (tn4_day, tn4_val)],
]
ylims = [(0, 2), (0, 4), (0, 6)]
yticks_list = [[0, 0.5, 1, 1.5, 2], [0, 1, 2, 3, 4], [0, 2, 4, 6]]
ytl_list = [['0', '0.5', '1', '1.5', '2'], ['0', '1', '2', '3', '4'], ['0', '2', '4', '6']]

for k in range(3):
    ax = axes[k + 1]
    for i, (dd, vv) in enumerate(load_data[k]):
        ax.plot(to_x(dd), vv, color=COLORS[i], lw=LW, label=series_names[i],
                solid_joinstyle='round', **STYLES[i])
    style_axis(ax, ylims[k], yticks_list[k], ytl_list[k])
    ax.legend(loc='center left', bbox_to_anchor=(0.0364, 0.84), ncol=4, frameon=False,
              fontsize=FS_LEG, handlelength=4.32, handletextpad=0.3, columnspacing=0.95,
              borderaxespad=0, borderpad=0)

for ax, lab in zip(axes, ylabels):
    ax.set_ylabel(lab, fontsize=FS_LABEL, labelpad=9, color='#111111')

for t, letter in zip(tops, panel_letters):
    fig.text(26 / W, 1 - (t + 8) / H, letter, fontsize=FS_TICK, ha='left', va='center', color='#111111')

fig.text((left_px + right_px) / 2 / W, 1 - 39 / H, year_title, fontsize=FS_TICK,
         ha='center', va='center', color='#111111')

fig.savefig('out.png', dpi=100)
